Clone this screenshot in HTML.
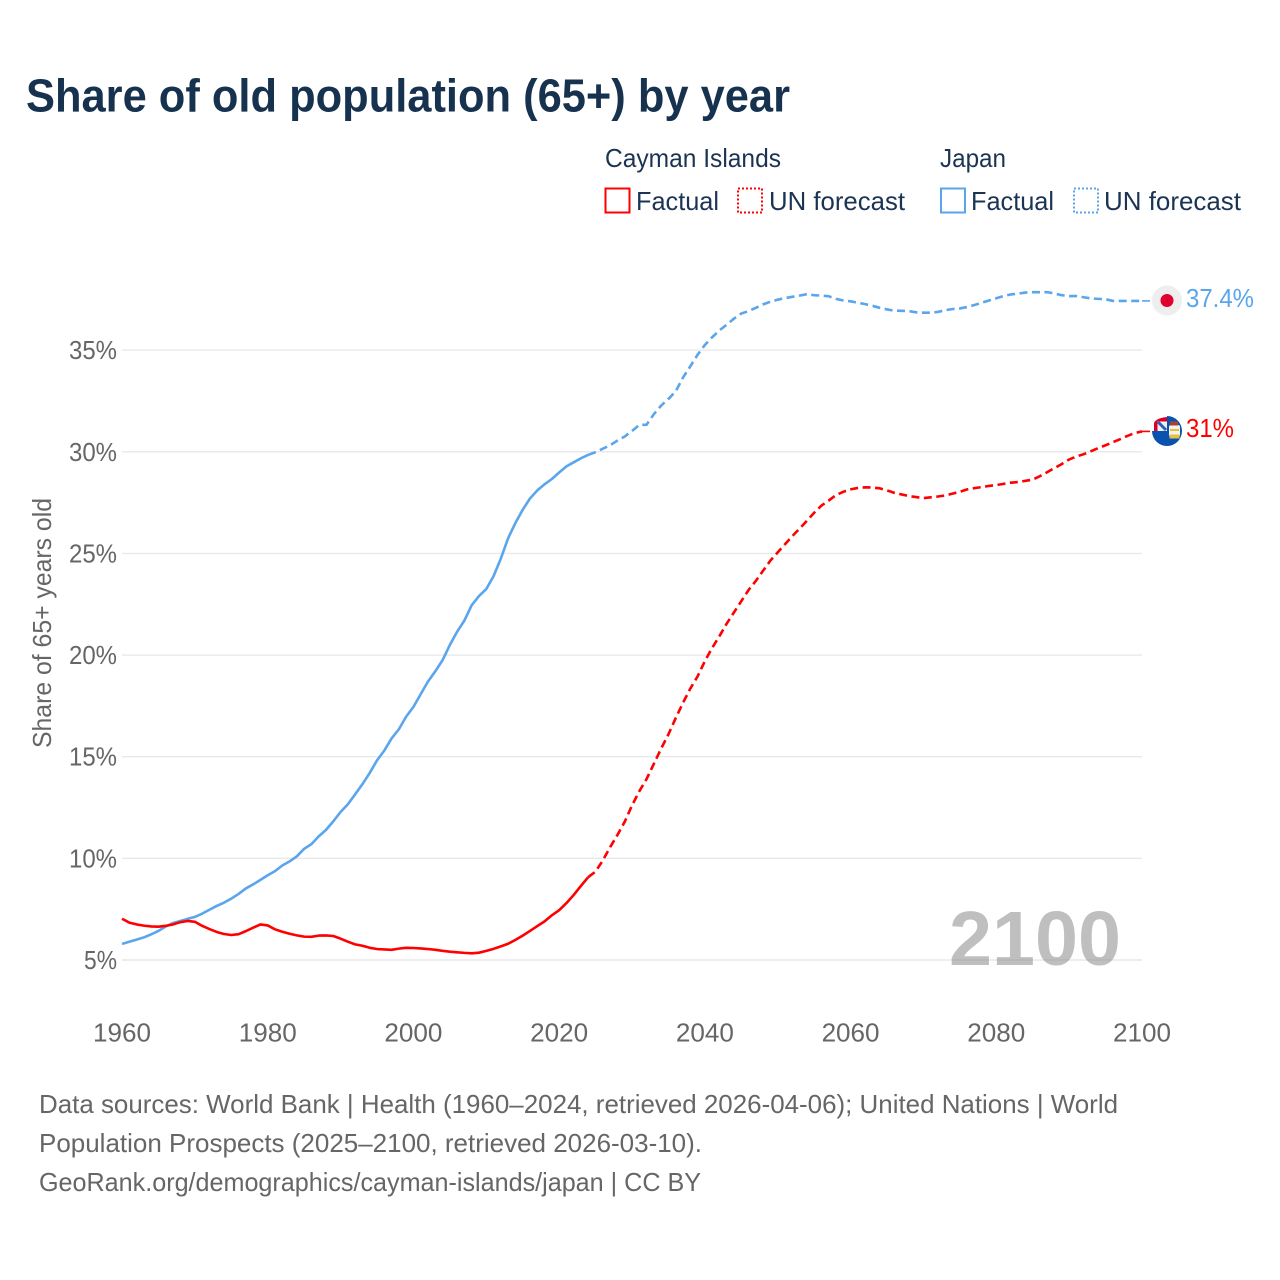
<!DOCTYPE html>
<html lang="en">
<head>
<meta charset="utf-8">
<title>Share of old population (65+) by year</title>
<style>
  html, body { margin: 0; padding: 0; background: #fff; }
  svg { display: block; font-family: "Liberation Sans", sans-serif; }
</style>
</head>
<body>
<svg id="chart" xmlns="http://www.w3.org/2000/svg" width="1280" height="1280" viewBox="0 0 1280 1280">
  <rect x="0" y="0" width="1280" height="1280" fill="#ffffff"/>
  <text x="26" y="111.5" font-size="46" font-weight="700" fill="#17324f" textLength="764" lengthAdjust="spacingAndGlyphs">Share of old population (65+) by year</text>

  <g font-size="26" fill="#1b3453">
    <text x="605" y="167" textLength="176" lengthAdjust="spacingAndGlyphs">Cayman Islands</text>
    <text x="940" y="167" textLength="66" lengthAdjust="spacingAndGlyphs">Japan</text>
    <g>
      <rect x="605.5" y="188.5" width="24" height="24" fill="none" stroke="#ff0000" stroke-width="2"/>
      <text x="636" y="210" textLength="83" lengthAdjust="spacingAndGlyphs">Factual</text>
    </g>
    <g>
      <rect x="738" y="188.5" width="24" height="24" fill="none" stroke="#ff0000" stroke-width="2" stroke-dasharray="2 2"/>
      <text x="769" y="210" textLength="136" lengthAdjust="spacingAndGlyphs">UN forecast</text>
    </g>
    <g>
      <rect x="941" y="188.5" width="24" height="24" fill="none" stroke="#5aa5ec" stroke-width="2"/>
      <text x="971" y="210" textLength="83" lengthAdjust="spacingAndGlyphs">Factual</text>
    </g>
    <g>
      <rect x="1074" y="188.5" width="24" height="24" fill="none" stroke="#5aa5ec" stroke-width="2" stroke-dasharray="2 2"/>
      <text x="1104" y="210" textLength="137" lengthAdjust="spacingAndGlyphs">UN forecast</text>
    </g>
  </g>

  <g id="grid"></g>
  <text x="949" y="965" font-size="77" font-weight="700" fill="#808080" fill-opacity="0.5" textLength="172" lengthAdjust="spacingAndGlyphs">2100</text>
  <g id="yticks" font-size="26" fill="#666666"></g>
  <g id="xticks" font-size="26" fill="#666666"></g>
  <text transform="translate(51,748) rotate(-90)" x="0" y="0" font-size="26" fill="#666666" textLength="250" lengthAdjust="spacingAndGlyphs">Share of 65+ years old</text>
  <g id="series"></g>

  <g id="japan-marker">
    <circle cx="1167" cy="300.5" r="15" fill="#eeeeee"/>
    <circle cx="1167" cy="300.5" r="6.5" fill="#e0002d"/>
  </g>
  <g id="cayman-marker">
    <path d="M1167 416 A15 15 0 1 1 1152 431 L1167 431 Z" fill="#0a52b0"/>
    <path d="M1154 431 L1154 423 Q1156 418 1167 417 L1167 431 Z" fill="#d80027"/>
    <rect x="1157.5" y="421.5" width="9.5" height="9.5" fill="#eef0f6"/>
    <path d="M1158 422 L1166 430" stroke="#2f5fb0" stroke-width="3" fill="none"/>
    <rect x="1169" y="425" width="11" height="12" rx="2" fill="#f2f4f0"/>
    <rect x="1170" y="421.5" width="8" height="4" fill="#a8452f"/>
    <rect x="1169.5" y="434.5" width="10" height="4" fill="#e6c13a"/>
    <rect x="1170" y="429" width="9" height="2" fill="#e6c13a"/>
  </g>

  <text x="1186" y="307" font-size="26" fill="#5aa5ec" textLength="68" lengthAdjust="spacingAndGlyphs">37.4%</text>
  <text x="1186" y="437" font-size="26" fill="#ff0000" textLength="48" lengthAdjust="spacingAndGlyphs">31%</text>

  <g font-size="26" fill="#666666">
    <text x="39" y="1113" textLength="1079" lengthAdjust="spacingAndGlyphs">Data sources: World Bank | Health (1960–2024, retrieved 2026-04-06); United Nations | World</text>
    <text x="39" y="1152" textLength="663" lengthAdjust="spacingAndGlyphs">Population Prospects (2025–2100, retrieved 2026-03-10).</text>
    <text x="39" y="1191" textLength="662" lengthAdjust="spacingAndGlyphs">GeoRank.org/demographics/cayman-islands/japan | CC BY</text>
  </g>
</svg>

<script>
var yTickValues = [5, 10, 15, 20, 25, 30, 35];
var xTickYears = [1960, 1980, 2000, 2020, 2040, 2060, 2080, 2100];
var factualStartYear = 1960;
var forecastStartYear = 2025;

var japanFactual = [
  5.79, 5.9, 6.0, 6.11, 6.26, 6.43, 6.65, 6.82, 6.92, 7.02,
  7.12, 7.28, 7.47, 7.66, 7.82, 8.02, 8.25, 8.52, 8.72, 8.94,
  9.17, 9.37, 9.65, 9.85, 10.1, 10.47, 10.7, 11.08, 11.4, 11.82,
  12.28, 12.66, 13.15, 13.65, 14.2, 14.82, 15.3, 15.9, 16.35, 16.97,
  17.45, 18.08, 18.7, 19.2, 19.75, 20.5, 21.15, 21.7, 22.45, 22.9,
  23.25, 23.88, 24.75, 25.75, 26.5, 27.15, 27.7, 28.1, 28.4, 28.66,
  28.98, 29.28, 29.48, 29.68, 29.85
];
var japanForecast = [
  29.98, 30.15, 30.32, 30.55, 30.75, 31.02, 31.32, 31.33, 31.85, 32.27,
  32.6, 32.97, 33.65, 34.2, 34.77, 35.25, 35.63, 35.97, 36.25, 36.55,
  36.8, 36.92, 37.08, 37.25, 37.38, 37.48, 37.56, 37.62, 37.68, 37.75,
  37.7, 37.68, 37.65, 37.52, 37.44, 37.4, 37.33, 37.26, 37.18, 37.08,
  37.0, 36.94, 36.93, 36.92, 36.86, 36.84, 36.84, 36.88, 36.96, 37.02,
  37.05, 37.12, 37.22, 37.33, 37.44, 37.55, 37.66, 37.74, 37.78, 37.83,
  37.85, 37.85, 37.85, 37.78, 37.7, 37.66, 37.66, 37.6, 37.54, 37.52,
  37.5, 37.42, 37.42, 37.42, 37.42, 37.42
];
var caymanFactual = [
  7.03, 6.84, 6.75, 6.69, 6.65, 6.64, 6.68, 6.75, 6.86, 6.92,
  6.88, 6.68, 6.52, 6.38, 6.28, 6.23, 6.27, 6.42, 6.59, 6.75,
  6.7, 6.51, 6.39, 6.29, 6.21, 6.15, 6.14, 6.2, 6.21, 6.18,
  6.05, 5.9, 5.77, 5.7, 5.6, 5.54, 5.52, 5.5, 5.56, 5.6,
  5.59, 5.57, 5.54, 5.5, 5.45, 5.41, 5.38, 5.35, 5.33, 5.36,
  5.45, 5.55, 5.67, 5.8, 5.99, 6.2, 6.43, 6.67, 6.9, 7.2,
  7.45, 7.8, 8.2, 8.65, 9.08
];
var caymanForecast = [
  9.35, 9.9, 10.55, 11.15, 11.8, 12.6, 13.3, 13.9, 14.65, 15.4,
  16.1, 16.9, 17.65, 18.35, 18.95, 19.7, 20.35, 20.93, 21.55, 22.1,
  22.65, 23.2, 23.65, 24.15, 24.65, 25.05, 25.45, 25.85, 26.22, 26.6,
  27.0, 27.35, 27.6, 27.87, 28.03, 28.15, 28.22, 28.25, 28.24, 28.2,
  28.1, 27.98, 27.9, 27.82, 27.77, 27.72, 27.76, 27.8, 27.85, 27.94,
  28.03, 28.15, 28.21, 28.26, 28.32, 28.36, 28.42, 28.48, 28.51, 28.57,
  28.63, 28.8, 29.0, 29.2, 29.4, 29.62, 29.77, 29.88, 30.03, 30.18,
  30.32, 30.47, 30.62, 30.78, 30.92, 31.0
];

var NS = 'http://www.w3.org/2000/svg';
var RED = '#ff0000';
var BLUE = '#5aa5ec';

function xScale(year) { return 122 + (year - 1960) * (1020 / 140); }
function yScale(value) { return 960 - (value - 5) * 20.33; }

function make(tag, parent) {
  var el = document.createElementNS(NS, tag);
  parent.appendChild(el);
  return el;
}

function linePath(values, startYear, prefix) {
  var d = prefix || '';
  values.forEach(function (v, i) {
    d += (d ? ' L' : 'M') + xScale(startYear + i).toFixed(2) + ' ' + yScale(v).toFixed(2);
  });
  return d;
}

var gridGroup = document.getElementById('grid');
var yGroup = document.getElementById('yticks');
yTickValues.forEach(function (v) {
  var line = make('line', gridGroup);
  
  
  line.setAttribute('x1', xScale(1960));
  line.setAttribute('x2', xScale(2100));
  line.setAttribute('y1', yScale(v));
  line.setAttribute('y2', yScale(v));
  line.setAttribute('stroke', '#e9e9e9');
  line.setAttribute('stroke-width', '1.4');

  var label = v + '%';
  var width = String(v).length * 15 + 18;
  var text = make('text', yGroup);
  
  
  text.setAttribute('x', 117 - width);
  text.setAttribute('y', yScale(v) + 9);
  text.setAttribute('textLength', width);
  text.setAttribute('lengthAdjust', 'spacingAndGlyphs');
  text.textContent = label;
});

var xGroup = document.getElementById('xticks');
xTickYears.forEach(function (year) {
  var text = make('text', xGroup);
  
  
  text.setAttribute('x', xScale(year) - 29);
  text.setAttribute('y', 1041.5);
  text.setAttribute('textLength', 58);
  text.setAttribute('lengthAdjust', 'spacingAndGlyphs');
  text.textContent = String(year);
});

var seriesGroup = document.getElementById('series');

function drawSeries(name, factual, forecast, color) {
  var lastFactualX = xScale(factualStartYear + factual.length - 1);
  var lastFactualY = yScale(factual[factual.length - 1]);

  var solid = make('path', seriesGroup);
  
  
  solid.setAttribute('d', linePath(factual, factualStartYear));
  solid.setAttribute('fill', 'none');
  solid.setAttribute('stroke', color);
  solid.setAttribute('stroke-width', '2.6');
  solid.setAttribute('stroke-linejoin', 'round');

  var dashed = make('path', seriesGroup);
  
  
  dashed.setAttribute('d', linePath(forecast, forecastStartYear, 'M' + lastFactualX.toFixed(2) + ' ' + lastFactualY.toFixed(2)));
  dashed.setAttribute('fill', 'none');
  dashed.setAttribute('stroke', color);
  dashed.setAttribute('stroke-width', '2.6');
  dashed.setAttribute('stroke-dasharray', '8 4.5');

  var endY = yScale(forecast[forecast.length - 1]);
  var connector = make('line', seriesGroup);
  
  
  connector.setAttribute('x1', xScale(2100));
  connector.setAttribute('x2', xScale(2100) + 10);
  connector.setAttribute('y1', endY);
  connector.setAttribute('y2', endY);
  connector.setAttribute('stroke', color);
  connector.setAttribute('stroke-width', '1.6');
  connector.setAttribute('stroke-dasharray', '8 2');
}

drawSeries('japan', japanFactual, japanForecast, BLUE);
drawSeries('cayman', caymanFactual, caymanForecast, RED);
</script>
</body>
</html>
